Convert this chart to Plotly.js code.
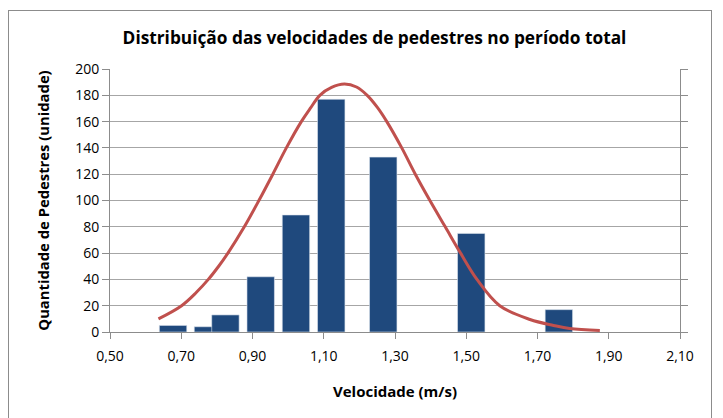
<!DOCTYPE html>
<html>
<head>
<meta charset="utf-8">
<script src="https://cdn.plot.ly/plotly-3.0.1.min.js"></script>
<style>
html,body{margin:0;padding:0;background:#fff;}
#frame{position:absolute;left:8px;top:10px;width:704px;height:420px;border:1px solid #8c8c8c;box-sizing:border-box;}
#chart{position:absolute;left:0;top:0;width:723px;height:418px;}
</style>
</head>
<body>
<div id="frame"></div>
<div id="chart"></div>
<script>
// Histogram bars (class midpoints, m/s) and counts
const barX = [0.677, 0.775, 0.824, 0.923, 1.022, 1.121, 1.267, 1.514, 1.760];
const barY = [5, 4, 13, 42, 89, 177, 133, 75, 17];

// Fitted normal curve
const curveX = [0.636, 0.701, 0.742, 0.776, 0.805, 0.831, 0.877, 0.918, 0.957, 0.995, 1.037, 1.062, 1.089, 1.122, 1.158, 1.192, 1.222, 1.250, 1.277, 1.319, 1.357, 1.398, 1.441, 1.484, 1.530, 1.594, 1.679, 1.745, 1.790, 1.875];
const curveY = [10, 20, 30, 40, 50, 60, 80, 100, 120, 140, 160, 170, 180, 186, 188.5, 186.3, 180, 171, 160, 140, 120, 100, 80, 60, 40, 20, 9.5, 5, 2.6, 1.2];

const xTickVals = [0.5, 0.7, 0.9, 1.1, 1.3, 1.5, 1.7, 1.9, 2.1];
const xTickText = ["0,50", "0,70", "0,90", "1,10", "1,30", "1,50", "1,70", "1,90", "2,10"];
const yTickVals = [0, 20, 40, 60, 80, 100, 120, 140, 160, 180, 200];

const FONT = "Open Sans, sans-serif";

const traces = [
  {
    type: "bar", x: barX, y: barY, width: 0.077,
    marker: {color: "#1f497d", line: {color: "#dfe6ef", width: 0.6}},
    hoverinfo: "skip", showlegend: false
  },
  {
    type: "scatter", mode: "lines", x: curveX, y: curveY,
    line: {color: "#c0504d", width: 3, shape: "spline", smoothing: 1},
    hoverinfo: "skip", showlegend: false
  }
];

const layout = {
  width: 723, height: 418,
  margin: {l: 110, r: 43, t: 69, b: 86},
  paper_bgcolor: "rgba(0,0,0,0)", plot_bgcolor: "rgba(0,0,0,0)",
  font: {family: FONT, color: "#000"},
  title: {
    text: "<b>Distribuição das velocidades de pedestres no período total</b>",
    font: {family: FONT, size: 17.3, color: "#000"},
    x: 0.518, xanchor: "center", y: 0.909, yanchor: "middle"
  },
  xaxis: {
    range: [0.5, 2.1], tickvals: xTickVals, ticktext: xTickText,
    ticks: "outside", ticklen: 6, tickcolor: "#8c8c8c",
    showline: true, linecolor: "#8c8c8c", linewidth: 1,
    showgrid: false, zeroline: false, ticklabelstandoff: 5,
    tickfont: {family: FONT, size: 14, color: "#000"},
    title: {text: "<b>Velocidade (m/s)</b>", font: {family: FONT, size: 15, color: "#000"}, standoff: 22}
  },
  yaxis: {
    range: [0, 200], tickvals: yTickVals,
    ticks: "outside", ticklen: 7, tickcolor: "#8c8c8c",
    showline: true, linecolor: "#8c8c8c", linewidth: 1, mirror: "ticks",
    showgrid: true, gridcolor: "#a6a6a6", gridwidth: 1, zeroline: false,
    tickfont: {family: FONT, size: 14, color: "#000"},
    title: {text: "<b>Quantidade de Pedestres (unidade)</b>", font: {family: FONT, size: 14.8, color: "#000"}, standoff: 22}
  },
  bargap: 0
};

Plotly.newPlot("chart", traces, layout, {staticPlot: true, displayModeBar: false});
</script>
</body>
</html>
